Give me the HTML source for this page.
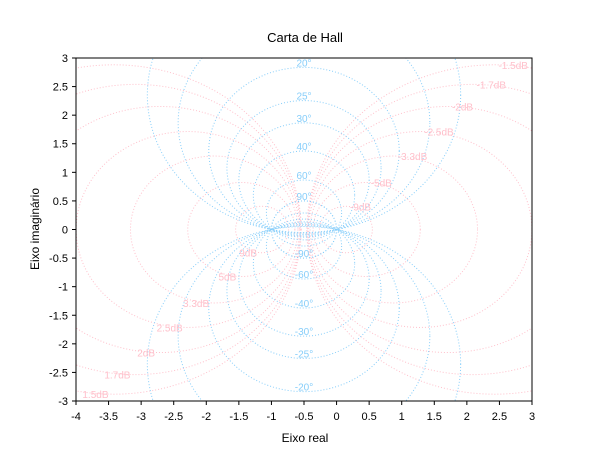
<!DOCTYPE html>
<html><head><meta charset="utf-8"><style>
html,body{margin:0;padding:0;background:#fff;width:610px;height:460px;overflow:hidden;}
svg{display:block;font-family:"Liberation Sans",sans-serif;}
</style></head><body>
<svg id="s" width="610" height="460" viewBox="0 0 610 460" xmlns="http://www.w3.org/2000/svg">
<rect width="610" height="460" fill="#fff"/>
<defs><clipPath id="c"><rect x="76" y="58" width="456" height="343"/></clipPath></defs>
<g id="plot" clip-path="url(#c)"></g>
<g id="labs" clip-path="url(#c)" font-size="10"></g>
<rect x="76" y="58" width="456" height="343" fill="none" stroke="#000" stroke-width="1"/>
<g id="ticks" font-size="11" fill="#000"></g>
<text x="305" y="42" text-anchor="middle" font-size="13">Carta de Hall</text>
<text x="305" y="442" text-anchor="middle" font-size="12">Eixo real</text>
<text transform="translate(39,229) rotate(-90)" text-anchor="middle" font-size="12">Eixo imaginário</text>
</svg>
<script>
var NS="http://www.w3.org/2000/svg";
function X(x){return 76+(x+4)*65.143;}
function Y(y){return 229.5-y*57.167;}
var plot=document.getElementById('plot'),labs=document.getElementById('labs'),ticks=document.getElementById('ticks');
function el(p,t,a,txt){var e=document.createElementNS(NS,t);for(var k in a)e.setAttribute(k,a[k]);if(txt!==undefined)e.textContent=txt;p.appendChild(e);return e;}
var pink="#ffc0cb",blue="#87cefa";
var dbs=[1.5,1.7,2,2.5,3.3,5,9];
dbs.forEach(function(d){
 [d,-d].forEach(function(db){
  var M=Math.pow(10,db/20),M2=M*M;
  var c=-M2/(M2-1),r=Math.abs(M/(M2-1));
  el(plot,'ellipse',{cx:X(c),cy:Y(0),rx:r*65.143,ry:r*57.167,fill:'none',stroke:pink,'stroke-width':1,'stroke-dasharray':'1,2'});
  if(db>0){el(labs,'text',{x:X(c)-5,y:Y(-r)+4,'text-anchor':'end',fill:pink},db+'dB');}
  else{el(labs,'text',{x:X(c)+4,y:Y(r)+4,fill:pink},db+'dB');}
 });
});
var phs=[12,15,20,25,30,40,60,90];
phs.forEach(function(p){
 [p,-p].forEach(function(ph){
  var t=ph*Math.PI/180;
  var cy=1/(2*Math.tan(t)),r=Math.abs(1/(2*Math.sin(t)));
  el(plot,'ellipse',{cx:X(-0.5),cy:Y(cy),rx:r*65.143,ry:r*57.167,fill:'none',stroke:blue,'stroke-width':1,'stroke-dasharray':'1,2'});
  var ty=ph>0?cy+r:cy-r;
  el(labs,'text',{x:X(-0.5),y:ph>0?Y(ty)-1:Y(ty)-1,'text-anchor':'middle',fill:blue},ph+'°');
 });
});
for(var i=0;i<=14;i++){var v=-4+i*0.5;var x=X(v);
 el(ticks,'line',{x1:x,y1:401,x2:x,y2:405,stroke:'#000'});
 el(ticks,'text',{x:x,y:420,'text-anchor':'middle'},(''+v));}
for(var i=0;i<=12;i++){var v=-3+i*0.5;var y=Y(v);
 el(ticks,'line',{x1:72,y1:y,x2:76,y2:y,stroke:'#000'});
 el(ticks,'text',{x:68,y:y+4,'text-anchor':'end'},(''+v));}
</script>
</body></html>
